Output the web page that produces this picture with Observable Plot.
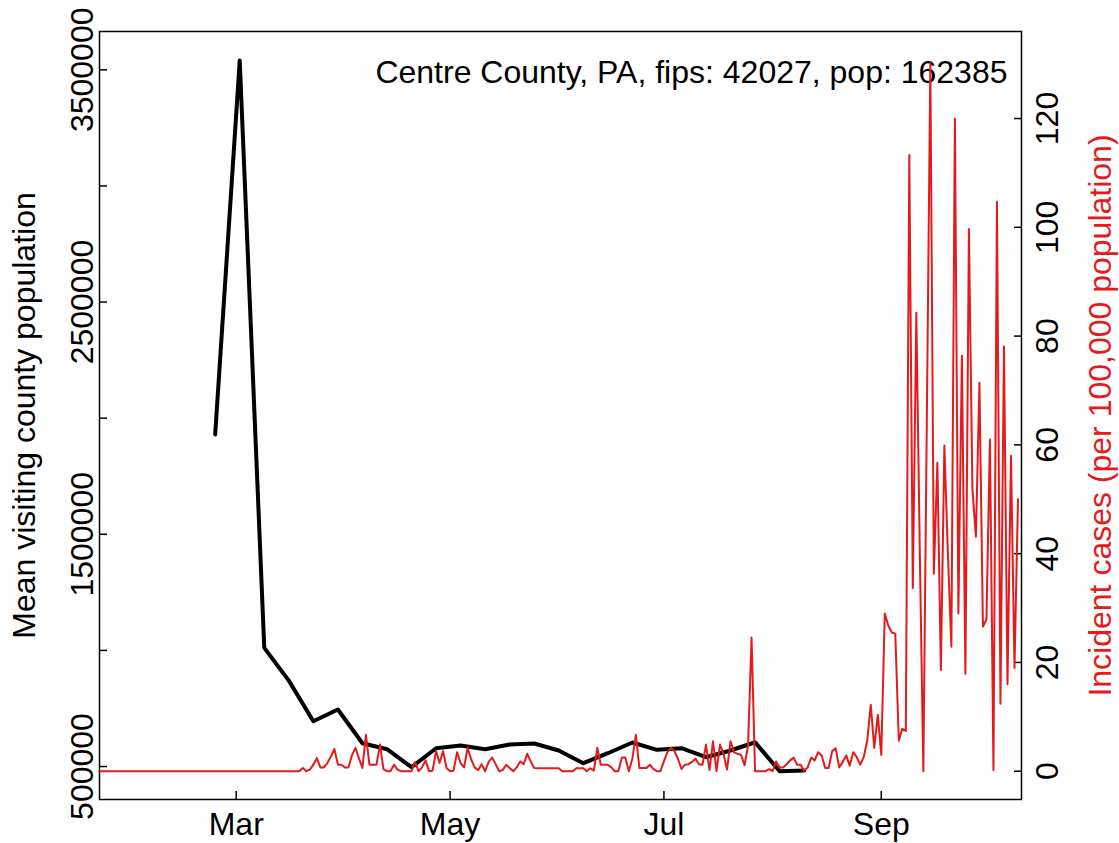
<!DOCTYPE html>
<html><head><meta charset="utf-8">
<script src="https://cdn.jsdelivr.net/npm/d3@7"></script>
<script src="https://cdn.jsdelivr.net/npm/@observablehq/plot@0.6"></script>
<style>
body{margin:0;background:#fff;overflow:hidden}
#wrap{position:relative;width:1119px;height:843px}
#wrap svg{position:absolute;left:0;top:0}
</style></head><body><div id="wrap"></div>
<script>
// ---- data ----
const title = "Centre County, PA, fips: 42027, pop: 162385";
const leftLabel = "Mean visiting county population";
const rightLabel = "Incident cases (per 100,000 population)";
const monthTicks = ["2020-03-01", "2020-05-01", "2020-07-01", "2020-09-01"];
const leftTicks = [500000, 1000000, 1500000, 2000000, 2500000, 3000000, 3500000];
const leftTickLabels = [500000, 1500000, 2500000, 3500000];
const rightTicks = [0, 20, 40, 60, 80, 100, 120];

// weekly mean visiting population, starting Mon 2020-02-24
const visitStart = "2020-02-24";
const visitValues = [1930000, 3540000, 1011000, 870000, 695000, 745500, 600000, 574500, 497000, 578800,
  590400, 574500, 594700, 599000, 569000, 514200, 557300, 603400, 571900, 578800,
  540000, 569000, 604600, 479800, 483000];

// daily incident cases per 100k, starting 2020-01-22
const caseStart = "2020-01-22";
const caseValues = [
  0,0,0,0,0,0,0,0,0,0, 0,0,0,0,0,0,0,0,0,0, 0,0,0,0,0,0,0,0,0,0,
  0,0,0,0,0,0,0,0,0,0, 0,0,0,0,0,0,0,0,0,0, 0,0,0,0,0,0,0,
  0, 0.6, 0, 0.3, 1.2, 2.4, 0.7, 0.7, 1.5, 2.7, 4.1, 1.2, 1.2, 0.7, 0.7, 2.9, 4.3, 2.4, 0.6, 6.7,
  1.2, 1.2, 1.2, 4.9, 0.4, 0, 0, 1.2, 0.3, 0, 0, 0, 0, 1.7, 0, 0.7, 2, 0, 0.1, 3.7,
  1.5, 3.7, 0.6, 0, 0.1, 3.5, 1.5, 0.7, 4.3, 2.2, 0.7, 0.2, 1.3, 0, 1.7, 2.5, 1.3, 0, 0.2, 1.2,
  0.6, 0, 0.7, 1.8, 1.3, 3.2, 1.8, 0.6, 0.55, 0.55, 0.55, 0.55, 0.55, 0.55, 0.55, 0, 0, 0, 0, 0.55,
  0.55, 0.55, 0, 0.55, 0.1, 4.3, 1.2, 1.2, 1.2, 0.7, 0, 0, 2.5, 2.5, 0, 2.3, 6.7, 0.6, 0.6, 0.6,
  1.2, 0.4, 0, 0, 1.8, 3.5, 4.3, 3.7, 2.3, 0.4, 1.2, 1.3, 1.7, 2.3, 1.3, 1.2, 4.9, 0.2, 5.5, 0,
  4.9, 3.2, 0.3, 5.5, 3.5, 3.2, 3.0, 1.1, 4.7, 24.6, 0, 0, 0, 0, 0.4, 0, 1.8, 0.7, 0.7, 1.3,
  2, 2.5, 1.2, 1.2, 0.1, 0.7, 2.5, 2, 3.5, 2.9, 0.6, 0.6, 3.7, 4.2, 0.7, 1.7, 2.9, 1, 3.5, 2.6,
  1.2, 2.6, 5.6, 12.2, 4.3, 10.4, 3.0, 29, 26.8, 25.5, 25.3, 5.6, 7.8, 7.4, 113.3, 33.7, 84.3, 40, 0, 65,
  130.2, 36.3, 56.7, 18.6, 59.9, 40, 22.9, 120, 29, 76.4, 17.9, 99.7, 51.9, 43.1, 71.4, 26.6, 27.9, 61, 0.2, 104.7,
  12.4, 78.1, 16, 58, 19, 50
];

// ---- build tables ----
const visits = visitValues.map((v, i) => ({date: d3.utcDay.offset(new Date(visitStart), 7 * i), value: v}));
const cases = caseValues.map((v, i) => ({date: d3.utcDay.offset(new Date(caseStart), i), value: v}));
const monthDates = monthTicks.map(s => new Date(s));

const W = 1119, H = 843;
const margins = {marginTop: 31, marginRight: 98, marginBottom: 44, marginLeft: 99};
const xDomain = [new Date("2020-01-22"), new Date("2020-10-11")];
const font = "'Liberation Sans', Arial, Helvetica, sans-serif";
const red = "#E41A1C";

const p1 = Plot.plot({
  width: W, height: H, ...margins,
  style: {fontFamily: font, fontSize: "32px", background: "white", color: "black"},
  x: {type: "utc", domain: xDomain},
  y: {domain: [358000, 3665000]},
  marks: [
    Plot.axisX(monthDates, {tickSize: -8, tickPadding: 21, strokeWidth: 1.5, tickFormat: d3.utcFormat("%b"), label: null}),
    Plot.axisY(leftTicks, {tickSize: -8, strokeWidth: 1.5, tickFormat: () => "", label: null}),
    Plot.axisY(leftTickLabels, {tickSize: 0, tickPadding: 7, tickRotate: -90, tickFormat: d => String(d), label: null}),
    Plot.lineY(visits, {x: "date", y: "value", stroke: "black", strokeWidth: 4, strokeLinejoin: "round"}),
    Plot.text([leftLabel], {frameAnchor: "left", rotate: -90, textAnchor: "middle", lineAnchor: "bottom", dx: -65, fill: "black"}),
    Plot.text([title], {frameAnchor: "top-right", textAnchor: "end", lineAnchor: "bottom", dx: -14, dy: 51, fill: "black"}),
    Plot.frame({stroke: "black", strokeWidth: 1.5})
  ]
});

const p2 = Plot.plot({
  width: W, height: H, ...margins,
  style: {fontFamily: font, fontSize: "32px", background: "none", color: "black"},
  x: {type: "utc", domain: xDomain, axis: null},
  y: {domain: [-5.2, 136], axis: null},
  marks: [
    Plot.axisY(rightTicks, {anchor: "right", tickSize: -8, tickPadding: 44, tickRotate: -90, strokeWidth: 1.5, label: null}),
    Plot.lineY(cases, {x: "date", y: "value", stroke: red, strokeWidth: 2}),
    Plot.text([rightLabel], {frameAnchor: "right", rotate: -90, textAnchor: "middle", lineAnchor: "bottom", dx: 89, fill: red})
  ]
});

document.getElementById("wrap").append(p1, p2);
</script></body></html>
